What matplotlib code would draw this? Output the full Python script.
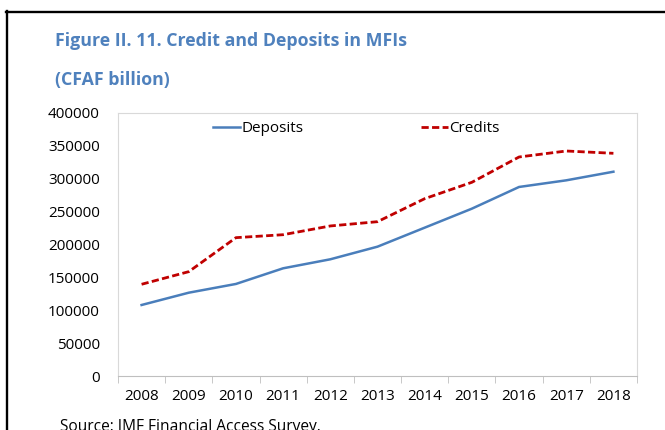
import matplotlib
matplotlib.use("Agg")
import matplotlib.pyplot as plt
from matplotlib.lines import Line2D

years = ["2008", "2009", "2010", "2011", "2012", "2013", "2014", "2015", "2016", "2017", "2018"]
deposits = [108000, 126700, 140000, 163800, 177500, 196700, 225600, 254500, 287500, 297600, 310700]
credits = [139500, 158700, 210400, 214900, 228200, 234700, 269700, 294600, 333100, 342200, 338700]
yticks = [0, 50000, 100000, 150000, 200000, 250000, 300000, 350000, 400000]

W, H = 665, 430
plt.rcParams['font.family'] = ['Open Sans', 'DejaVu Sans']
fig = plt.figure(figsize=(W / 100, H / 100), dpi=100)


def fx(px):
    return px / W


def fy(py):
    return 1 - py / H


ax = fig.add_axes([fx(118), fy(376), fx(637) - fx(118), fy(113) - fy(376)])

x = list(range(len(years)))
ax.plot(x, deposits, color="#4A7EBB", lw=1.8, label="Deposits")
ax.plot(x, credits, color="#C00000", lw=2.0, ls=(0, (2.6, 1.2)), label="Credits")

ax.set_xlim(-0.5, len(years) - 0.5)
ax.set_ylim(0, 400000)
ax.set_yticks(yticks)
ax.set_yticklabels([str(v) for v in yticks])
ax.set_xticks(x)
ax.set_xticklabels(years)
ax.set_xticks([i - 0.5 for i in range(len(years) + 1)], minor=True)
ax.tick_params(axis="x", which="major", length=0, pad=9, labelsize=11, colors="black")
ax.tick_params(axis="x", which="minor", length=5, color="#BFBFBF", direction="out")
ax.tick_params(axis="y", length=0, pad=13, labelsize=11)
for s in ["left", "top", "right"]:
    ax.spines[s].set_color("#D9D9D9")
    ax.spines[s].set_linewidth(0.8)
ax.spines["bottom"].set_color("#BFBFBF")
ax.spines["bottom"].set_linewidth(0.8)

# Legend: left edge of the handles at x=213px, centre y=129px
lx = (213 - 118) / (637 - 118)
ly = (376 - 129) / (376 - 113)
ax.legend(loc="center left", ncol=2, frameon=False, fontsize=11,
          handlelength=1.75, handletextpad=0.1, columnspacing=7.7,
          bbox_to_anchor=(lx, ly), borderaxespad=0, borderpad=0)

title_kw = dict(color="#4F81BD", fontweight="bold", va="baseline", ha="left", fontsize=12.8)
fig.text(fx(55), fy(45.5), "Figure II. 11. Credit and Deposits in MFIs", **title_kw)
fig.text(fx(55), fy(85.5), "(CFAF billion)", **title_kw)

fig.text(fx(60), fy(431), "Source: IMF Financial Access Survey.", fontsize=11.2,
         va="baseline", ha="left")

# Outer black frame (partially visible)
fig.add_artist(Line2D([fx(7), fx(7)], [fy(11), fy(440)], color="black", lw=1.7,
                      transform=fig.transFigure))
fig.add_artist(Line2D([fx(6), fx(680)], [fy(12), fy(12)], color="black", lw=1.7,
                      transform=fig.transFigure))

fig.savefig("out.png", dpi=100)
